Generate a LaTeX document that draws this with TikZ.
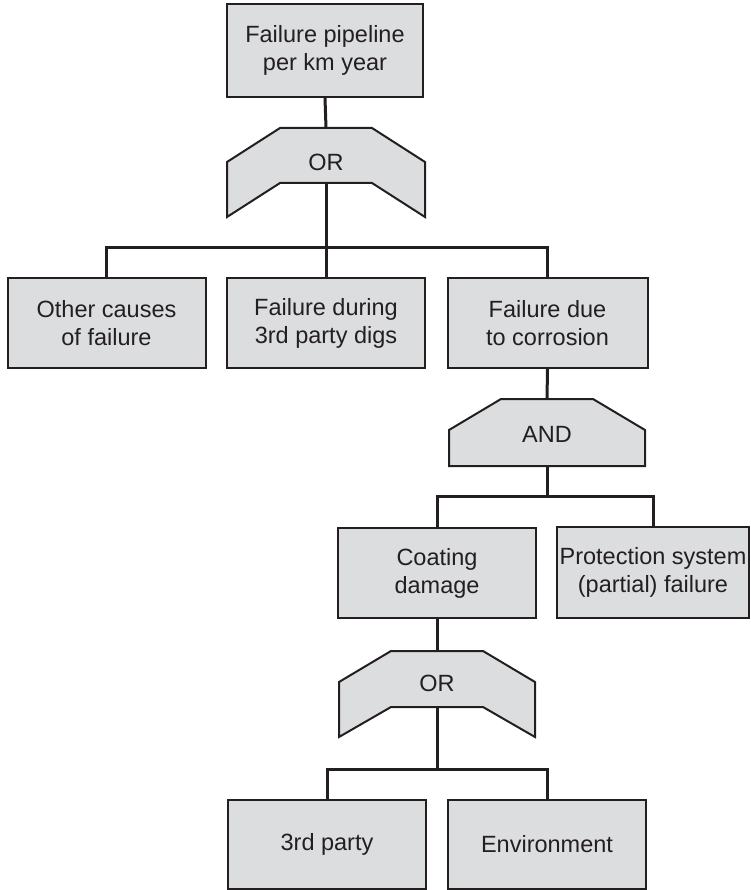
\documentclass[tikz,border=0pt]{standalone}
\usepackage{fontspec}
\setmainfont{Liberation Sans}
\definecolor{boxfill}{RGB}{220,221,223}
\definecolor{ink}{RGB}{35,31,32}
\begin{document}
\begin{tikzpicture}[x=1pt,y=-1pt,
  evbox/.style={draw=ink, fill=boxfill, line width=2pt, minimum width=198pt,
    minimum height=90pt, align=center, inner sep=1pt, text=ink,
    font=\fontsize{23.5}{28}\selectfont},
  gatelbl/.style={text=ink, font=\fontsize{23.5}{28}\selectfont, inner sep=0pt},
  gateshape/.style={draw=ink, fill=boxfill, line width=2pt, line join=miter},
  conn/.style={draw=ink, line width=3pt, line join=miter}]
\useasboundingbox (0,0) rectangle (751,890);

% events
\node[evbox, minimum width=196pt, minimum height=93pt] (top) at (325,50.5) {Failure pipeline\\per km year};
\node[evbox] (other) at (106.5,323) {Other causes\\of failure};
\node[evbox] (dig) at (326,323) {Failure during\\3rd party digs};
\node[evbox, minimum width=200pt] (corr) at (547.5,323) {Failure due\\to corrosion};
\node[evbox] (coat) at (437,573) {Coating\\damage};
\node[evbox, minimum width=192pt, minimum height=91pt] (prot) at (653,572.5) {Protection system\\(partial) failure};
\node[evbox, minimum height=89pt] (third) at (327,844.5) {3rd party};
\node[evbox, minimum height=89pt] (env) at (547,844.5) {Environment};

% OR gate 1
\path[gateshape] (280,128) -- (372,128) -- (425,162) -- (425,217) -- (372,183) -- (280,183) -- (227,217) -- (227,162) -- cycle;
\node[gatelbl] (or1) at (326,162) {OR};
\coordinate (or1top) at (326,128);
\coordinate (or1bot) at (326,183);

% AND gate
\path[gateshape] (501,399) -- (593,399) -- (645,430) -- (645,466) -- (449,466) -- (449,430) -- cycle;
\node[gatelbl] (and1) at (547,434) {AND};
\coordinate (andtop) at (547,399);
\coordinate (andbot) at (547,466);

% OR gate 2
\path[gateshape] (391,651) -- (483,651) -- (535,682) -- (535,737) -- (483,707) -- (391,707) -- (339,737) -- (339,682) -- cycle;
\node[gatelbl] (or2) at (437,683) {OR};
\coordinate (or2top) at (437,651);
\coordinate (or2bot) at (437,707);

% junctions
\coordinate (j1) at (326,248);
\coordinate (j2) at (547,496);
\coordinate (j3) at (437,769);

% connectors
\draw[conn] (top.south) -- (or1top);
\draw[conn] (or1bot) -- (j1);
\draw[conn] (other.north) |- (j1) -| (corr.north);
\draw[conn] (j1) -- (dig.north);

\draw[conn] (corr.south) -- (andtop);
\draw[conn] (andbot) -- (j2);
\draw[conn] (coat.north) |- (j2) -| (prot.north);

\draw[conn] (coat.south) -- (or2top);
\draw[conn] (or2bot) -- (j3);
\draw[conn] (third.north) |- (j3) -| (env.north);
\end{tikzpicture}
\end{document}
